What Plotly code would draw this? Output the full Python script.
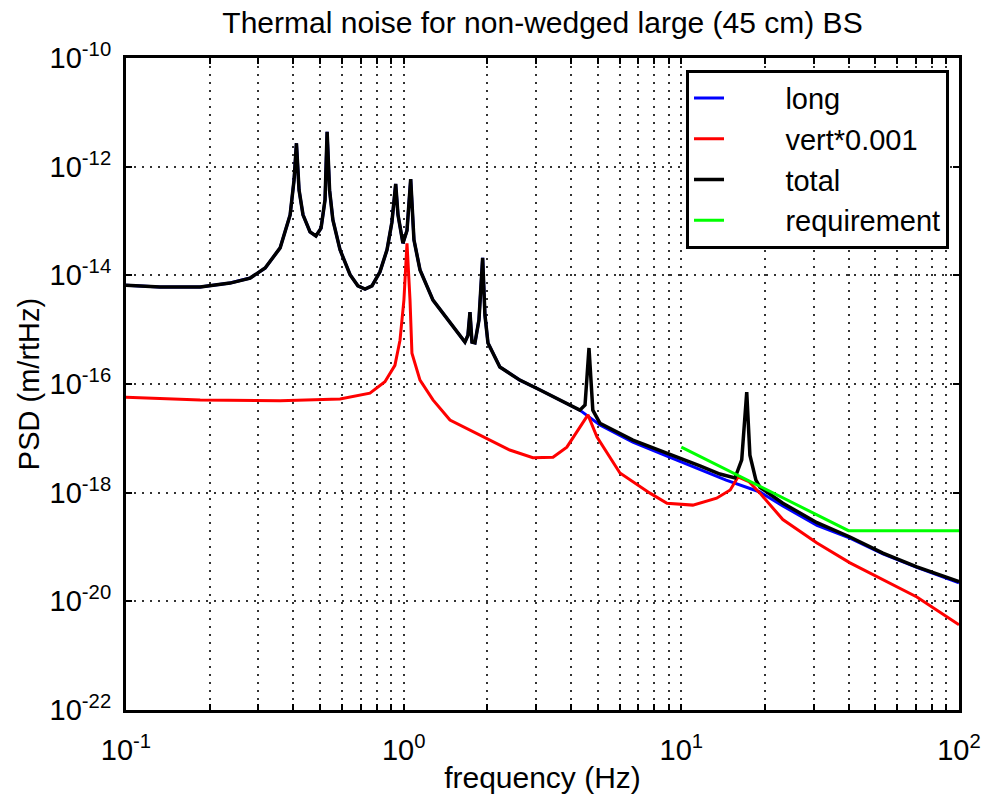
import plotly.graph_objects as go

# ---- data ----
total_f = [0.1, 0.1325, 0.185, 0.237, 0.28, 0.317, 0.359, 0.390, 0.403, 0.411, 0.420, 0.434,
           0.460, 0.483, 0.504, 0.521, 0.530, 0.541, 0.556, 0.590, 0.641, 0.684, 0.726, 0.769,
           0.821, 0.871, 0.907, 0.936, 0.954, 0.994, 1.028, 1.060, 1.089, 1.145, 1.275, 1.468,
           1.662, 1.704, 1.733, 1.762, 1.806, 1.867, 1.925, 1.962, 2.012, 2.22, 2.62, 3.10,
           3.65, 4.31, 4.50, 4.65, 4.80, 5.09, 6.69, 8.88, 11.67, 13.77, 15.6, 16.5, 17.2,
           17.66, 18.56, 19.19, 23.2, 30.8, 40.5, 53.2, 70.5, 100.0]
total_v = [6.6e-15, 6.1e-15, 6.1e-15, 7.2e-15, 8.9e-15, 1.36e-14, 3.2e-14, 1.29e-13, 5.7e-13,
           2.7e-12, 3.7e-13, 1.3e-13, 6.3e-14, 5.3e-14, 7.4e-14, 2.45e-13, 4.4e-12, 3.7e-13,
           1.05e-13, 2.95e-14, 1.03e-14, 6.4e-15, 5.6e-15, 6.4e-15, 1.15e-14, 2.95e-14, 9.5e-14,
           4.8e-13, 1.3e-13, 3.9e-14, 6.7e-14, 5.9e-13, 4.5e-14, 1.26e-14, 3.5e-15, 1.33e-15,
           5.9e-16, 7.9e-16, 2.1e-15, 5.9e-16, 5.7e-16, 1.5e-15, 2.1e-14, 1.86e-15, 5.7e-16,
           2.06e-16, 1.18e-16, 7.75e-17, 5.1e-17, 3.3e-17, 4.1e-17, 4.6e-16, 3.3e-17, 1.9e-17,
           9.3e-18, 5.4e-18, 3.1e-18, 2.2e-18, 1.86e-18, 4.0e-18, 7.1e-17, 4.9e-18, 1.7e-18,
           1.26e-18, 6.4e-19, 2.8e-19, 1.53e-19, 7.7e-20, 4.3e-20, 2.3e-20]

long_f = total_f[:50] + [5.09, 6.69, 8.88, 11.67, 14.5, 19.19, 23.2, 30.8, 40.5, 53.2, 70.5, 100.0]
long_v = total_v[:50] + [1.76e-17, 8.5e-18, 4.7e-18, 2.7e-18, 1.7e-18, 1.03e-18, 5.7e-19,
                         2.5e-19, 1.46e-19, 7.5e-20, 4.2e-20, 2.2e-20]

vert_f = [0.1, 0.185, 0.359, 0.590, 0.756, 0.856, 0.930, 0.970, 1.002, 1.028, 1.054, 1.071,
          1.145, 1.275, 1.468, 1.93, 2.41, 2.92, 3.45, 3.87, 4.31, 4.61, 4.97, 5.40, 6.01,
          7.71, 8.88, 11.0, 13.4, 15.0, 16.0, 17.5, 19.19, 23.2, 30.8, 40.5, 53.2, 70.5, 100.0]
vert_v = [5.7e-17, 5.1e-17, 4.9e-17, 5.3e-17, 6.8e-17, 1.1e-16, 2.2e-16, 6.4e-16, 3.5e-15,
          3.9e-14, 3.5e-15, 3.7e-16, 1.18e-16, 5.1e-17, 2.17e-17, 1.06e-17, 6.1e-18, 4.4e-18,
          4.5e-18, 6.9e-18, 1.6e-17, 2.7e-17, 1.06e-17, 5.4e-18, 2.3e-18, 9.8e-19, 6.4e-19,
          5.9e-19, 7.9e-19, 1.12e-18, 1.95e-18, 1.6e-18, 9.8e-19, 3.2e-19, 1.18e-19, 5.1e-20,
          2.46e-20, 1.2e-20, 3.7e-21]

req_f = [10.0, 40.0, 100.0]
req_v = [6.9e-18, 2.0e-19, 2.0e-19]

x_exps = [-1, 0, 1, 2]
x_tickvals = [10.0 ** e for e in x_exps]
x_ticktext = ["10<sup>%d</sup>" % e for e in x_exps]
y_exps = [-22, -20, -18, -16, -14, -12, -10]
y_tickvals = [10.0 ** e for e in y_exps]
y_ticktext = ["10<sup>%d</sup>" % e for e in y_exps]
legend_names = ["long", "vert*0.001", "total", "requirement"]

FONT = "Liberation Sans, Arial, sans-serif"
PAD = "\u00a0" * 7

fig = go.Figure()
fig.add_trace(go.Scatter(x=long_f, y=long_v, mode="lines", name=PAD + legend_names[0],
                         line=dict(color="#0000ff", width=3)))
fig.add_trace(go.Scatter(x=vert_f, y=vert_v, mode="lines", name=PAD + legend_names[1],
                         line=dict(color="#ff0000", width=3)))
fig.add_trace(go.Scatter(x=total_f, y=total_v, mode="lines", name=PAD + legend_names[2],
                         line=dict(color="#000000", width=3.5)))
fig.add_trace(go.Scatter(x=req_f, y=req_v, mode="lines", name=PAD + legend_names[3],
                         line=dict(color="#00ff00", width=3)))

GRID = dict(gridcolor="#333333", gridwidth=1.5, griddash="2px,6px")

axis_common = dict(
    type="log", automargin=False, showline=True, linecolor="black", linewidth=3, mirror="ticks",
    ticks="inside", ticklen=6, tickwidth=2, tickcolor="black",
    showgrid=True, **GRID,
    zeroline=False, tickfont=dict(family=FONT, size=29, color="black"),
)

fig.update_layout(
    template="none",
    width=981, height=799,
    margin=dict(l=126, r=22, t=58, b=89, autoexpand=False),
    paper_bgcolor="white", plot_bgcolor="white",
    title=dict(text="Thermal noise for non-wedged large (45 cm) BS",
               font=dict(family=FONT, size=30, color="black"),
               x=0.5, xref="paper", xanchor="center", y=0.972, yanchor="middle"),
    xaxis=dict(**axis_common, range=[-1, 2], tickvals=x_tickvals, ticktext=x_ticktext,
               ticklabelstandoff=12,
               minor=dict(dtick="D1", ticks="inside", ticklen=6, tickwidth=2, tickcolor="black",
                          showgrid=True, **GRID),
               title=dict(text="frequency (Hz)", font=dict(family=FONT, size=30, color="black"),
                          standoff=3)),
    yaxis=dict(**axis_common, range=[-22, -10], tickvals=y_tickvals, ticktext=y_ticktext,
               ticklabelstandoff=6,
               title=dict(text="PSD (m/rtHz)", font=dict(family=FONT, size=29, color="black"),
                          standoff=2)),
    showlegend=True,
    legend=dict(x=0.988, y=0.982, xanchor="right", yanchor="top",
                bgcolor="white", bordercolor="black", borderwidth=3,
                font=dict(family=FONT, size=29, color="black"),
                tracegroupgap=0),
)

fig.write_html("out.html")
